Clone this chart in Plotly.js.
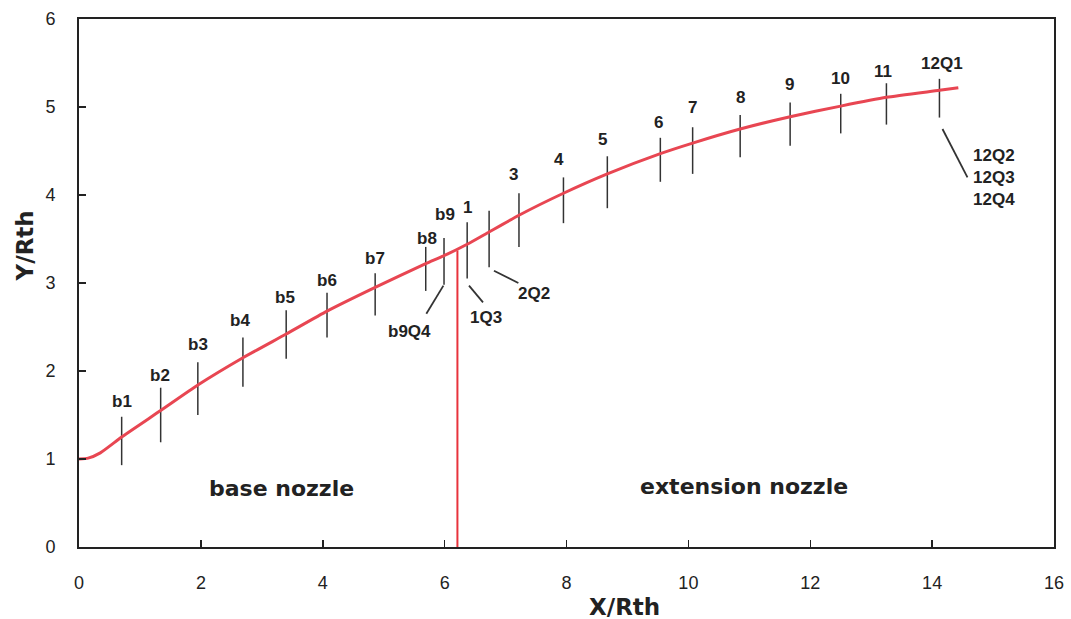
<!DOCTYPE html>
<html>
<head>
<meta charset="utf-8">
<script src="https://cdn.plot.ly/plotly-3.0.1.min.js"></script>
<style>html,body{margin:0;padding:0;background:#fff;}#chart{width:1071px;height:619px;}</style>
</head>
<body>
<div id="chart"></div>
<script>
// Wall contour Y/Rth vs X/Rth
const contourX = [0, 0.15, 0.35, 0.70, 1.34, 1.95, 2.69, 3.40, 4.07, 4.86, 5.69, 5.99, 6.37, 6.73, 7.22, 7.95, 8.67, 9.54, 10.07, 10.85, 11.67, 12.50, 13.25, 14.12, 14.43];
const contourY = [1.00, 1.01, 1.07, 1.25, 1.55, 1.84, 2.15, 2.42, 2.68, 2.95, 3.22, 3.31, 3.44, 3.58, 3.77, 4.02, 4.24, 4.47, 4.59, 4.75, 4.89, 5.01, 5.11, 5.19, 5.22];

// Station marks (vertical bars)
const stationX    = [0.70, 1.34, 1.95, 2.69, 3.40, 4.07, 4.86, 5.69, 5.99, 6.37, 6.73, 7.22, 7.95, 8.67, 9.54, 10.07, 10.85, 11.67, 12.50, 13.25, 14.12];
const stationLow  = [0.93, 1.19, 1.50, 1.82, 2.14, 2.38, 2.63, 2.91, 2.98, 3.05, 3.18, 3.41, 3.68, 3.85, 4.15, 4.24, 4.43, 4.56, 4.70, 4.80, 4.88];
const stationHigh = [1.48, 1.81, 2.10, 2.38, 2.69, 2.89, 3.11, 3.41, 3.51, 3.69, 3.82, 4.02, 4.20, 4.44, 4.65, 4.77, 4.91, 5.05, 5.15, 5.27, 5.32];

// Station labels
const labelText = ["b1","b2","b3","b4","b5","b6","b7","b8","b9","1","3","4","5","6","7","8","9","10","11","12Q1","b9Q4","1Q3","2Q2","12Q2","12Q3","12Q4"];
const labelX    = [0.71, 1.33, 1.95, 2.64, 3.38, 4.07, 4.86, 5.71, 6.01, 6.37, 7.13, 7.87, 8.59, 9.51, 10.07, 10.85, 11.66, 12.50, 13.20, 14.17, 5.42, 6.68, 7.47, 15.02, 15.02, 15.02];
const labelY    = [1.65, 1.95, 2.30, 2.57, 2.84, 3.03, 3.28, 3.51, 3.78, 3.86, 4.23, 4.40, 4.63, 4.82, 4.99, 5.11, 5.26, 5.32, 5.40, 5.50, 2.45, 2.61, 2.88, 4.45, 4.20, 3.95];

// Leader lines [x0, y0, x1, y1]
const leaderX0 = [5.98, 6.40, 6.81, 14.17];
const leaderY0 = [2.97, 2.97, 3.14, 4.75];
const leaderX1 = [5.70, 6.63, 7.21, 14.58];
const leaderY1 = [2.65, 2.78, 3.00, 4.20];

// Base / extension interface
const interfaceX = 6.21;
const interfaceY = [0, 3.37];

// Region labels
const regionText = ["base nozzle", "extension nozzle"];
const regionX = [3.32, 10.92];
const regionY = [0.67, 0.69];

const xTicks = [0, 2, 4, 6, 8, 10, 12, 14, 16];
const yTicks = [0, 1, 2, 3, 4, 5, 6];

// Build traces
const barX = [], barY = [];
stationX.forEach((x, i) => { barX.push(x, x, null); barY.push(stationLow[i], stationHigh[i], null); });
const ldX = [], ldY = [];
leaderX0.forEach((x, i) => { ldX.push(x, leaderX1[i], null); ldY.push(leaderY0[i], leaderY1[i], null); });

const traces = [
  {x: barX, y: barY, mode: 'lines', line: {color: '#333', width: 1.5}, hoverinfo: 'skip'},
  {x: ldX, y: ldY, mode: 'lines', line: {color: '#333', width: 1.8}, hoverinfo: 'skip'},
  {x: [interfaceX, interfaceX], y: interfaceY, mode: 'lines', line: {color: '#e8333c', width: 2}, hoverinfo: 'skip'},
  {x: contourX, y: contourY, mode: 'lines', line: {color: '#e84652', width: 3, shape: 'spline', smoothing: 0.5}}
];

const annotations = labelText.map((t, i) => ({
  x: labelX[i], y: labelY[i], xref: 'x', yref: 'y', text: t, showarrow: false,
  xanchor: 'center', yanchor: 'middle',
  font: {family: 'Liberation Sans, Arial, sans-serif', size: 17, color: '#222', weight: 'bold'}
}));
regionText.forEach((t, i) => annotations.push({
  x: regionX[i], y: regionY[i], xref: 'x', yref: 'y', text: '<b>' + t + '</b>', showarrow: false,
  xanchor: 'center', yanchor: 'middle',
  font: {family: 'DejaVu Sans, sans-serif', size: 22, color: '#222'}
}));
annotations.push({
  x: 0.5595, y: -0.113, xref: 'paper', yref: 'paper', text: '<b>X/Rth</b>', showarrow: false,
  xanchor: 'center', yanchor: 'middle',
  font: {family: 'DejaVu Sans, sans-serif', size: 23, color: '#222'}
});
annotations.push({
  x: -0.055, y: 0.57, xref: 'paper', yref: 'paper', text: '<b>Y/Rth</b>', showarrow: false, textangle: -90,
  xanchor: 'center', yanchor: 'middle',
  font: {family: 'DejaVu Sans, sans-serif', size: 23, color: '#222'}
});

const axisCommon = {
  showgrid: false, zeroline: false, ticks: 'inside', ticklen: 7, tickwidth: 1.5, tickcolor: '#222',
  showline: true, linecolor: '#222', linewidth: 2, mirror: true,
  tickfont: {family: 'Liberation Sans, Arial, sans-serif', size: 18, color: '#222'}
};

const layout = {
  width: 1071, height: 619,
  margin: {l: 79, r: 17, t: 19, b: 72},
  paper_bgcolor: '#fff', plot_bgcolor: '#fff',
  showlegend: false,
  xaxis: Object.assign({}, axisCommon, {range: [0, 16], tickvals: xTicks, ticklabelstandoff: 18}),
  yaxis: Object.assign({}, axisCommon, {range: [0, 6], tickvals: yTicks, ticklabelstandoff: 18}),
  annotations: annotations
};

Plotly.newPlot('chart', traces, layout, {displayModeBar: false, staticPlot: true});
</script>
</body>
</html>
